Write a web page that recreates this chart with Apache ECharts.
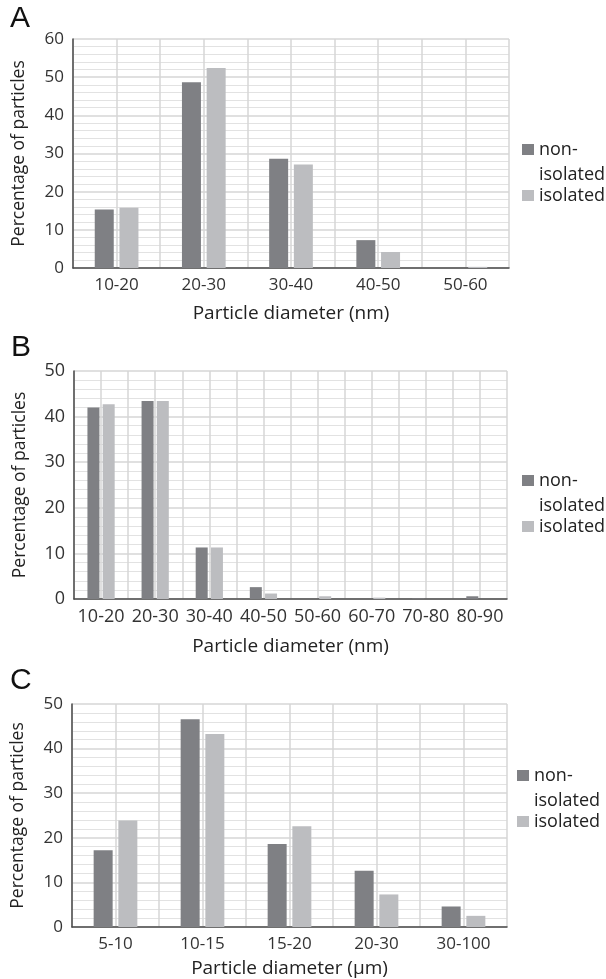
<!DOCTYPE html>
<html>
<head>
<meta charset="utf-8">
<script src="https://cdn.jsdelivr.net/npm/echarts@6/dist/echarts.min.js"></script>
<style>
html,body{margin:0;padding:0;background:#fff;}
#chart{width:606px;height:979px;}
</style>
</head>
<body>
<div id="chart"></div>
<script>
// ---- data ----
var catsA = ['10-20', '20-30', '30-40', '40-50', '50-60'];
var nonIsoA = [15.3, 48.7, 28.6, 7.3, 0];
var isoA = [15.8, 52.4, 27.1, 4.2, 0.3];

var catsB = ['10-20', '20-30', '30-40', '40-50', '50-60', '60-70', '70-80', '80-90'];
var nonIsoB = [42.0, 43.4, 11.3, 2.6, 0, 0, 0.1, 0.6];
var isoB = [42.7, 43.4, 11.3, 1.2, 0.6, 0.3, 0, 0];

var catsC = ['5-10', '10-15', '15-20', '20-30', '30-100'];
var nonIsoC = [17.2, 46.6, 18.6, 12.6, 4.6];
var isoC = [23.9, 43.3, 22.6, 7.3, 2.5];

var yMaxA = 60, yMaxB = 50, yMaxC = 50;
var seriesNames = ['non-isolated', 'isolated'];
var xTitleNm = 'Particle diameter (nm)';
var xTitleUm = 'Particle diameter (\u00b5m)';
var yTitle = 'Percentage of particles';
var panelLetters = ['A', 'B', 'C'];

// ---- styles ----
var FONT = 'Open Sans';
var DARK = '#7f8084';
var LIGHT = '#bcbdc0';
var TXT = '#333333';

var panels = [
  {cats: catsA, non: nonIsoA, iso: isoA, max: yMaxA, xt: xTitleNm, fs: 17,
   grid: {left: 73, right: 97, top: 39, bottom: 711}, xGap: 36, legTop: 112, legLeft: 522, barW: 19, gap: '30%'},
  {cats: catsB, non: nonIsoB, iso: isoB, max: yMaxB, xt: xTitleNm, fs: 18,
   grid: {left: 74, right: 99, top: 371, bottom: 380}, xGap: 38, legTop: 443, legLeft: 522, barW: 12, gap: '27%'},
  {cats: catsC, non: nonIsoC, iso: isoC, max: yMaxC, xt: xTitleUm, fs: 17,
   grid: {left: 72, right: 99, top: 704, bottom: 52}, xGap: 32, legTop: 738, legLeft: 517, barW: 19, gap: '30%'}
];

var option = {
  animation: false,
  backgroundColor: '#ffffff',
  textStyle: {fontFamily: FONT},
  title: [
    {text: panelLetters[0], left: 5, top: -1, textStyle: {fontFamily: 'Liberation Sans', fontWeight: 'normal', fontSize: 30, color: '#111'}},
    {text: panelLetters[1], left: 6, top: 328, textStyle: {fontFamily: 'Liberation Sans', fontWeight: 'normal', fontSize: 30, color: '#111'}},
    {text: panelLetters[2], left: 5, top: 661, textStyle: {fontFamily: 'Liberation Sans', fontWeight: 'normal', fontSize: 30, color: '#111'}}
  ],
  grid: [], xAxis: [], yAxis: [], series: [], legend: []
};

panels.forEach(function (p, i) {
  option.grid.push({left: p.grid.left, right: p.grid.right, top: p.grid.top, bottom: p.grid.bottom, containLabel: false});
  // main category axis
  option.xAxis.push({
    type: 'category', gridIndex: i, data: p.cats, position: 'bottom',
    axisLine: {lineStyle: {color: '#4a4a4a', width: 1.5}},
    axisTick: {show: false},
    axisLabel: {interval: 0, fontSize: p.fs, color: TXT, fontFamily: FONT, margin: 9},
    splitLine: {show: false},
    name: p.xt, nameLocation: 'middle', nameGap: p.xGap,
    nameTextStyle: {fontSize: 19, color: '#222', fontFamily: FONT}
  });
  // helper axis for half-category vertical grid lines
  var half = [];
  p.cats.forEach(function (c) { half.push(c + ' a'); half.push(c + ' b'); });
  option.xAxis.push({
    type: 'category', gridIndex: i, data: half, position: 'top',
    axisLine: {show: false}, axisTick: {show: false, interval: 0}, axisLabel: {show: false, interval: 0},
    splitLine: {show: true, interval: 0, lineStyle: {color: '#d6d6d6', width: 1.5}}
  });
  option.yAxis.push({
    type: 'value', gridIndex: i, min: 0, max: p.max, interval: 10,
    axisLine: {show: true, lineStyle: {color: '#4a4a4a', width: 1.5}},
    axisTick: {show: false},
    axisLabel: {fontSize: p.fs, color: TXT, fontFamily: FONT, margin: 9},
    splitLine: {show: true, lineStyle: {color: '#d6d6d6', width: 1.5}},
    minorTick: {show: false, splitNumber: 5},
    minorSplitLine: {show: true, lineStyle: {color: '#e2e2e2', width: 1}},
    name: yTitle, nameLocation: 'middle', nameGap: 45,
    nameTextStyle: {fontSize: 17.5, color: '#222', fontFamily: FONT}
  });
  option.series.push({
    name: seriesNames[0], type: 'bar', xAxisIndex: i * 2, yAxisIndex: i,
    data: p.non, barWidth: p.barW, barGap: p.gap, itemStyle: {color: DARK}
  });
  option.series.push({
    name: seriesNames[1], type: 'bar', xAxisIndex: i * 2, yAxisIndex: i,
    data: p.iso, barWidth: p.barW, barGap: p.gap, itemStyle: {color: LIGHT}
  });
  option.legend.push({
    orient: 'vertical', left: p.legLeft, top: p.legTop, padding: 0,
    itemWidth: 12, itemHeight: 11, itemGap: -4, icon: 'rect',
    selectedMode: false,
    data: [seriesNames[0], seriesNames[1]],
    formatter: function (n) { return n === 'non-isolated' ? ' \nnon-\nisolated' : n; },
    textStyle: {fontSize: 18, color: '#222', fontFamily: FONT, lineHeight: 25}
  });
});

var chart = echarts.init(document.getElementById('chart'), null, {renderer: 'canvas'});
chart.setOption(option);
</script>
</body>
</html>
